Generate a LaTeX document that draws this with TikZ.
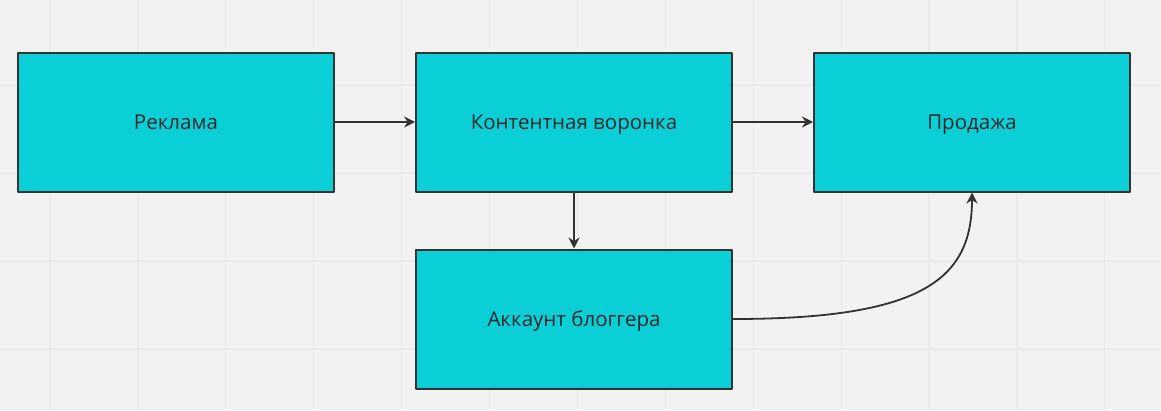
\documentclass[tikz,border=0pt]{standalone}
\usepackage{fontspec}
\setmainfont{Open Sans}
\usetikzlibrary{arrows.meta,positioning}
\definecolor{ink}{HTML}{333333}
\definecolor{txt}{HTML}{1E2A2C}
\definecolor{card}{HTML}{0BCFD6}
\definecolor{paper}{HTML}{F2F2F2}
\definecolor{gridln}{HTML}{EAEAEA}
\tikzset{
  >={Stealth[length=11pt,width=11pt]},
  every picture/.style={line cap=round, line join=round},
  box/.style={draw=ink, fill=card, line width=2pt, minimum width=316pt,
    minimum height=139pt, inner sep=0pt, text=txt, text height=15pt, text depth=0pt,
    font=\fontsize{20.5}{24}\selectfont},
  arr/.style={->, draw=ink, line width=1.8pt},
  gridline/.style={draw=gridln, line width=1.2pt},
}

\begin{document}
\begin{tikzpicture}[x=1pt, y=-1pt]
  % ---------------- canvas ----------------
  \fill[paper] (0,0) rectangle (1161,410);
  \useasboundingbox (0,0) rectangle (1161,410);
  \foreach \k in {0,...,12}{\draw[gridline] (50+87.9*\k,0) -- (50+87.9*\k,410);}
  \foreach \y in {85,173,261,349}{\draw[gridline] (0,\y) -- (1161,\y);}

  % ---------------- funnel ----------------
  \node[box] (ads) at (176,122) {Реклама};
  \node[box] (funnel) at (574,122) {Контентная воронка};
  \node[box] (sale) at (972,122) {Продажа};
  \node[box] (blog) at (574,319) {Аккаунт блоггера};
  \draw[arr] (ads) -- (funnel);
  \draw[arr] (funnel) -- (sale);
  \draw[arr] (funnel) -- (blog);
  \draw[arr] (blog.east) .. controls (925,319) and (972,278) .. (sale.south);
\end{tikzpicture}
\end{document}
